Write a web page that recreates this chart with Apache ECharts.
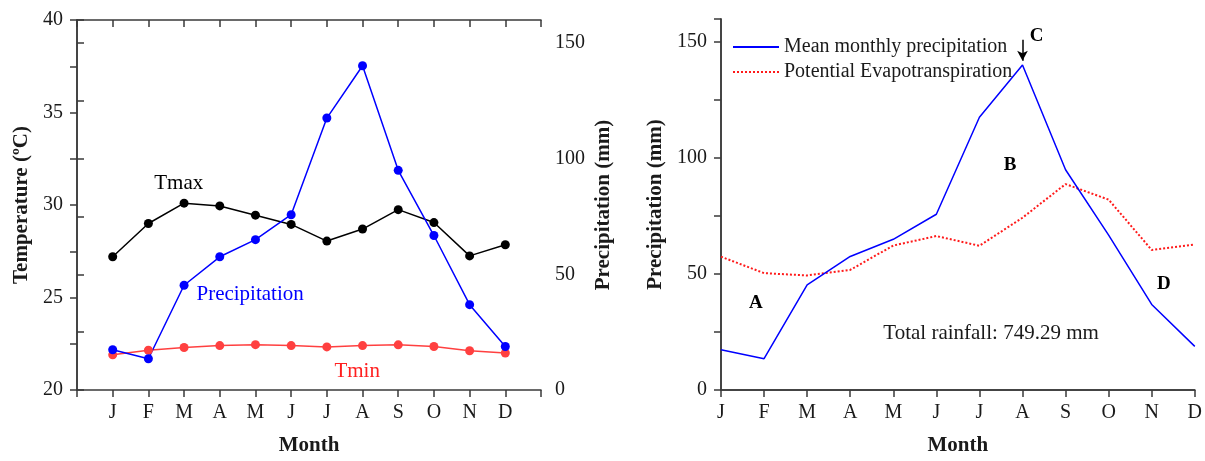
<!DOCTYPE html>
<html>
<head>
<meta charset="utf-8">
<title>Climate chart</title>
<script src="https://cdn.jsdelivr.net/npm/echarts@6/dist/echarts.min.js"></script>
<style>
  html, body { margin: 0; padding: 0; background: #fff; }
  #chart { width: 1205px; height: 461px; }
</style>
</head>
<body>
<div id="chart"></div>
<script>
const months = ['J', 'F', 'M', 'A', 'M', 'J', 'J', 'A', 'S', 'O', 'N', 'D']

// left panel: temperatures (ºC) and precipitation (mm)
const tmax = [27.2, 29.0, 30.1, 29.95, 29.45, 28.95, 28.05, 28.7, 29.75, 29.05, 27.25, 27.85]
const tmin = [21.9, 22.15, 22.3, 22.4, 22.45, 22.4, 22.33, 22.4, 22.44, 22.35, 22.12, 22.0]
const precipitation = [17.4, 13.5, 45.3, 57.6, 65.0, 75.8, 117.6, 140.2, 95.0, 66.8, 36.9, 18.8]

// right panel: potential evapotranspiration (mm)
const pet = [57.5, 50.4, 49.4, 51.8, 62.3, 66.4, 62.2, 74.3, 88.8, 82.1, 60.4, 62.7]

const tempTicks = [20, 25, 30, 35, 40]
const precTicks = [0, 50, 100, 150]

const FONT = 'Liberation Serif'
const AXIS_COLOR = '#3a3a3a'
const TEXT_COLOR = '#1a1a1a'

const echart = echarts.init(document.getElementById('chart'))

// pairs of [position, value] so the month ticks sit on the value axis
const onLeft = arr => arr.map((v, i) => [i + 1, v])
const onRight = arr => arr.map((v, i) => [i, v])

const line = { show: true, lineStyle: { color: AXIS_COLOR, width: 1.5 } }
const tickOut = { show: true, inside: false, length: 7, lineStyle: { color: AXIS_COLOR, width: 1.5 } }
const tickIn = { show: true, inside: true, length: 7, lineStyle: { color: AXIS_COLOR, width: 1.5 } }
const tickLabel = { color: TEXT_COLOR, fontFamily: FONT, fontSize: 20 }
const nameStyle = { color: TEXT_COLOR, fontFamily: FONT, fontSize: 21, fontWeight: 'bold' }

const note = (text, coord, color, bold) => ({
  coord: coord,
  symbol: 'circle',
  symbolSize: 1,
  itemStyle: { color: 'transparent' },
  label: {
    show: true,
    position: 'inside',
    formatter: text,
    color: color,
    fontFamily: FONT,
    fontSize: bold ? 19 : 21,
    fontWeight: bold ? 'bold' : 'normal'
  }
})

const option = {
  animation: false,
  grid: [
    { left: 77, top: 20, width: 464, height: 375 },
    { left: 721, top: 19, width: 476, height: 375 }
  ],
  legend: {
    data: ['Mean monthly precipitation', 'Potential Evapotranspiration'],
    orient: 'vertical',
    left: 732,
    top: 37,
    padding: 0,
    itemGap: 5,
    itemWidth: 46,
    itemHeight: 10,
    itemStyle: { opacity: 0 },
    textStyle: { color: TEXT_COLOR, fontFamily: FONT, fontSize: 20 }
  },
  xAxis: [
    {
      gridIndex: 0, type: 'value', min: 0, max: 13, interval: 1,
      name: 'Month', nameLocation: 'middle', nameGap: 45, nameTextStyle: nameStyle,
      axisLine: line, axisTick: tickOut, splitLine: { show: false },
      axisLabel: Object.assign({ margin: 13, formatter: v => months[v - 1] || '' }, tickLabel)
    },
    {
      gridIndex: 0, type: 'value', position: 'top', min: 0, max: 13, interval: 1,
      axisLine: line, axisTick: tickIn, splitLine: { show: false }, axisLabel: { show: false }
    },
    {
      gridIndex: 1, type: 'value', min: 0, max: 11, interval: 1,
      name: 'Month', nameLocation: 'middle', nameGap: 45, nameTextStyle: nameStyle,
      axisLine: line, axisTick: tickOut, splitLine: { show: false },
      axisLabel: Object.assign({ margin: 13, formatter: v => months[v] || '' }, tickLabel)
    },
    {
      gridIndex: 1, type: 'value', position: 'top', min: 0, max: 11, interval: 1,
      axisLine: line, axisTick: tickIn, splitLine: { show: false }, axisLabel: { show: false }
    }
  ],
  yAxis: [
    {
      gridIndex: 0, type: 'value', min: 20, max: 40, interval: 2.5,
      name: 'Temperature (ºC)', nameLocation: 'middle', nameGap: 45, nameRotate: 90,
      nameTextStyle: nameStyle,
      axisLine: line, axisTick: tickOut, splitLine: { show: false },
      axisLabel: Object.assign({ margin: 14, formatter: v => tempTicks.includes(v) ? v : '' }, tickLabel)
    },
    {
      gridIndex: 0, type: 'value', position: 'right', min: 0, max: 160, interval: 25,
      name: 'Precipitation (mm)', nameLocation: 'middle', nameGap: 52, nameRotate: 90,
      nameTextStyle: nameStyle,
      axisLine: line, axisTick: tickOut, splitLine: { show: false },
      axisLabel: Object.assign({ margin: 14, formatter: v => precTicks.includes(v) ? v : '' }, tickLabel)
    },
    {
      gridIndex: 1, type: 'value', min: 0, max: 160, interval: 25,
      name: 'Precipitation (mm)', nameLocation: 'middle', nameGap: 55, nameRotate: 90,
      nameTextStyle: nameStyle,
      axisLine: line, axisTick: tickOut, splitLine: { show: false },
      axisLabel: Object.assign({ margin: 14, formatter: v => precTicks.includes(v) ? v : '' }, tickLabel)
    },
    {
      gridIndex: 1, type: 'value', position: 'right', min: 0, max: 160, interval: 25,
      axisLine: line, axisTick: tickIn, splitLine: { show: false }, axisLabel: { show: false }
    }
  ],
  series: [
    {
      name: 'Tmax', type: 'line', xAxisIndex: 0, yAxisIndex: 0,
      data: onLeft(tmax),
      symbol: 'circle', symbolSize: 9,
      itemStyle: { color: '#000' },
      lineStyle: { color: '#000', width: 1.5 },
      markPoint: { data: [note('Tmax', [2.85, 31.15], '#000')] }
    },
    {
      name: 'Tmin', type: 'line', xAxisIndex: 0, yAxisIndex: 0,
      data: onLeft(tmin),
      symbol: 'circle', symbolSize: 9,
      itemStyle: { color: '#ff4040' },
      lineStyle: { color: '#ff4040', width: 1.5 },
      markPoint: { data: [note('Tmin', [7.85, 21.0], '#ff2020')] }
    },
    {
      name: 'Precipitation', type: 'line', xAxisIndex: 0, yAxisIndex: 1,
      data: onLeft(precipitation),
      symbol: 'circle', symbolSize: 9,
      itemStyle: { color: '#0000ff' },
      lineStyle: { color: '#0000ff', width: 1.5 },
      markPoint: { data: [note('Precipitation', [4.85, 41.3], '#0000ff')] }
    },
    {
      name: 'Potential Evapotranspiration', type: 'line', xAxisIndex: 2, yAxisIndex: 2,
      data: onRight(pet),
      symbol: 'none',
      lineStyle: { color: '#ff1a1a', width: 2, type: 'dotted' },
      itemStyle: { color: '#ff1a1a' }
    },
    {
      name: 'Mean monthly precipitation', type: 'line', xAxisIndex: 2, yAxisIndex: 2,
      data: onRight(precipitation),
      symbol: 'none',
      lineStyle: { color: '#0000ff', width: 1.5 },
      itemStyle: { color: '#0000ff' },
      markPoint: {
        data: [
          note('A', [0.81, 37.4], '#000', true),
          note('B', [6.71, 97], '#000', true),
          note('C', [7.33, 152.5], '#000', true),
          note('D', [10.28, 45.5], '#000', true),
          note('Total rainfall: 749.29 mm', [6.27, 24.4], TEXT_COLOR)
        ]
      },
      markLine: {
        silent: true,
        symbol: ['none', 'arrow'],
        symbolSize: [8, 10],
        lineStyle: { color: '#000', width: 1.5, type: 'solid' },
        label: { show: false },
        data: [[{ coord: [7, 151] }, { coord: [7, 142] }]]
      }
    }
  ]
}

option && echart.setOption(option)
</script>
</body>
</html>
